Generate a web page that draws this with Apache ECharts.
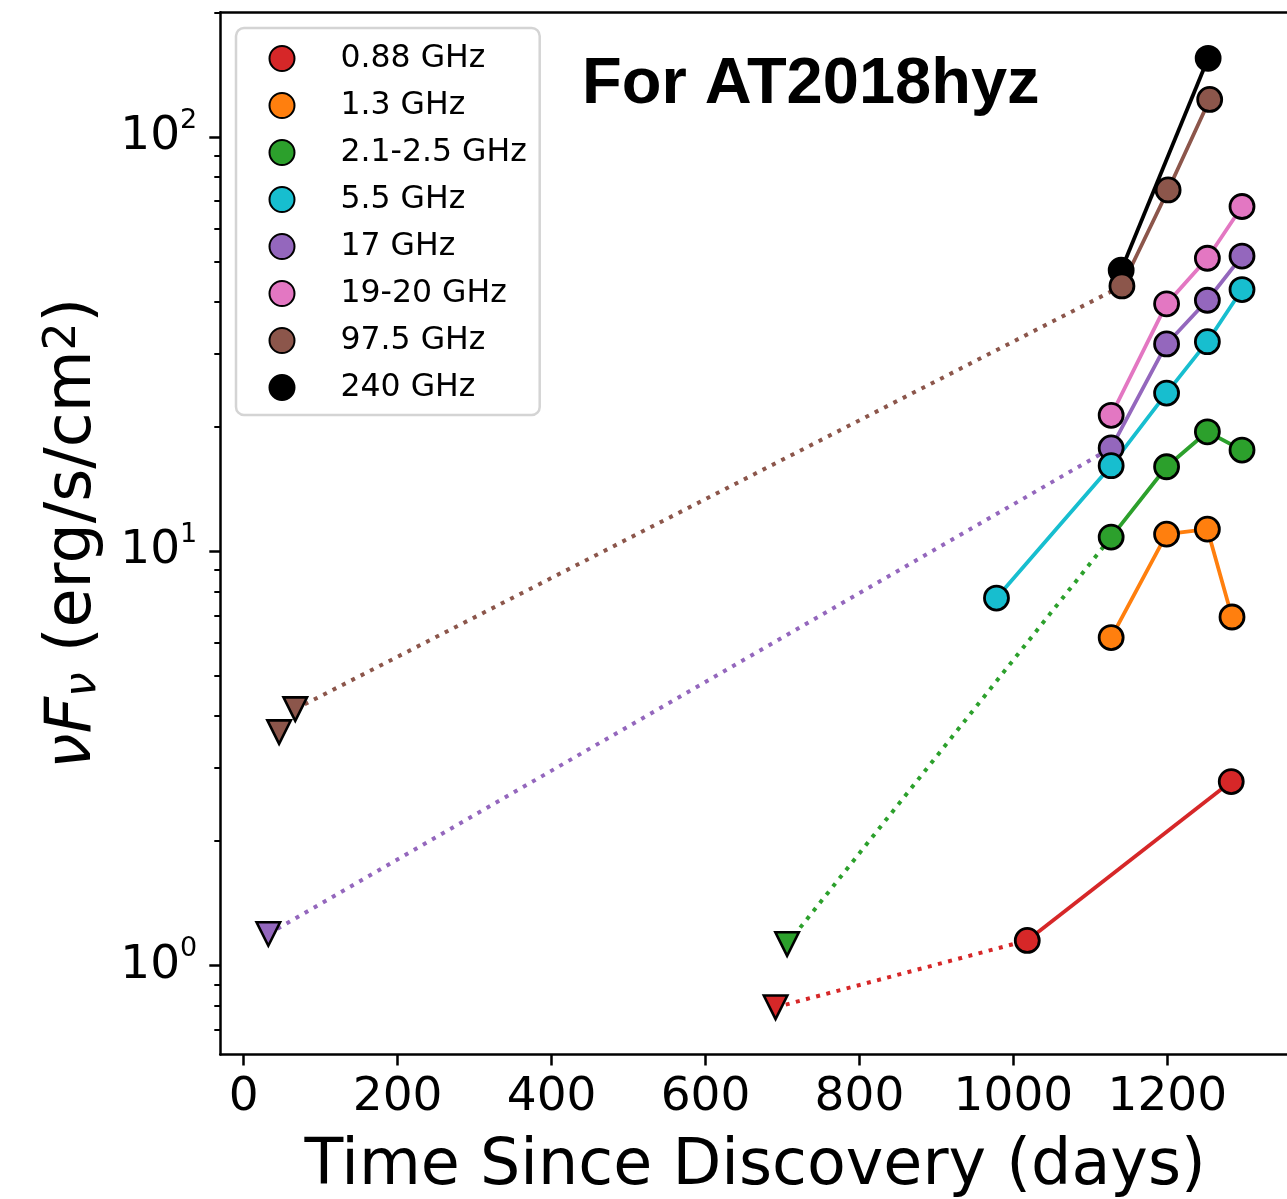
<!DOCTYPE html>
<html><head><meta charset="utf-8">
<script src="https://cdn.jsdelivr.net/npm/echarts@6/dist/echarts.min.js"></script>
<style>html,body{margin:0;padding:0;background:#fff;overflow:hidden}#c{width:1287px;height:1199px}</style>
</head><body><div id="c"></div>
<script>
// ---- data ----
const bandNames = ['0.88 GHz', '1.3 GHz', '2.1-2.5 GHz', '5.5 GHz', '17 GHz', '19-20 GHz', '97.5 GHz', '240 GHz'];
const bandColors = ['#d62728', '#ff7f0e', '#2ca02c', '#17becf', '#9467bd', '#e377c2', '#8c564b', '#000000'];

// detections (days, nuFnu)
const days088 = [1018, 1283];            const flux088 = [1.15, 2.78];
const days13  = [1127, 1199, 1252, 1284]; const flux13  = [6.19, 11.0, 11.31, 6.94];
const days21  = [1127, 1199, 1252, 1297]; const flux21  = [10.82, 16.0, 19.43, 17.55];
const days55  = [978, 1127, 1199, 1252, 1297]; const flux55 = [7.71, 16.09, 24.09, 32.06, 42.83];
const days17  = [1127, 1199, 1252, 1297]; const flux17  = [17.76, 31.66, 40.36, 51.6];
const days19  = [1127, 1199, 1252, 1297]; const flux19  = [21.29, 39.56, 50.97, 67.97];
const days975 = [1141, 1201, 1255];       const flux975 = [43.7, 74.5, 123.2];
const days240 = [1140, 1253];             const flux240 = [47.7, 154.9];

// upper limits (days, nuFnu)
const limDays088 = [691];     const limFlux088 = [0.793];
const limDays21  = [706];     const limFlux21  = [1.127];
const limDays17  = [32];      const limFlux17  = [1.192];
const limDays975 = [46, 67];  const limFlux975 = [3.66, 4.16];

// ticks
const xTickValues = [0, 200, 400, 600, 800, 1000, 1200];
const yMajorValues = [1, 10, 100];
const yMinorValues = [0.7, 0.8, 0.9, 2, 3, 4, 5, 6, 7, 8, 9, 20, 30, 40, 50, 60, 70, 80, 90, 200];

// ---- build ----
const detDays = [days088, days13, days21, days55, days17, days19, days975, days240];
const detFlux = [flux088, flux13, flux21, flux55, flux17, flux19, flux975, flux240];
const limDays = [limDays088, [], limDays21, [], limDays17, [], limDays975, []];
const limFlux = [limFlux088, [], limFlux21, [], limFlux17, [], limFlux975, []];

const FONT = 'DejaVu Sans';
const series = [];
for (let i = bandNames.length - 1; i >= 0; i--) {
  const name = bandNames[i];
  const col = bandColors[i];
  const ld = limDays[i], lf = limFlux[i];
  if (ld.length) {
    const k = ld.length - 1;
    series.push({
      name: name + ' link', type: 'line', silent: true, symbol: 'none', z: 1,
      data: [[ld[k], lf[k]], [detDays[i][0], detFlux[i][0]]],
      lineStyle: { color: col, width: 4, type: [4, 6.5], cap: 'butt' }
    });
    series.push({
      name: name + ' limit', type: 'scatter', silent: true, z: 2,
      symbol: 'triangle', symbolRotate: 180, symbolSize: 23.5,
      data: ld.map((d, j) => [d, lf[j]]),
      itemStyle: { color: col, borderColor: '#000', borderWidth: 2.6, opacity: 1 }
    });
  }
  series.push({
    name: name, type: 'line', z: 3,
    symbol: 'circle', symbolSize: 24, showAllSymbol: true,
    data: detDays[i].map((d, j) => [d, detFlux[i][j]]),
    lineStyle: { color: col, width: 3.8 },
    itemStyle: { color: col, borderColor: '#000', borderWidth: 2.8, opacity: 1 }
  });
}

const chart = echarts.init(document.getElementById('c'), null, { renderer: 'canvas' });
chart.setOption({
  animation: false,
  backgroundColor: '#fff',
  title: {
    text: 'For AT2018hyz', left: 582, top: 53, padding: 0,
    textStyle: { fontFamily: 'Liberation Sans', fontWeight: 'bold', fontSize: 65, lineHeight: 65, color: '#000' }
  },
  legend: {
    data: bandNames, orient: 'vertical', left: 236, top: 28,
    icon: 'circle', itemWidth: 25, itemHeight: 25, itemGap: 15,
    padding: [14.5, 13, 11.5, 32.5],
    backgroundColor: '#fff', borderColor: '#d4d4d4', borderWidth: 2.5, borderRadius: 8,
    textStyle: { fontFamily: FONT, fontSize: 31.5, lineHeight: 25, color: '#000', padding: [0, 0, 0, 41] },
    selectedMode: false
  },
  grid: {
    left: 220.3, top: 12.3, width: 1085.6, height: 1042.2,
    show: false, containLabel: false, outerBoundsMode: 'none'
  },
  xAxis: [{
    type: 'value', min: -30.4, max: 1380,
    name: 'Time Since Discovery (days)', nameLocation: 'middle', nameGap: 81,
    nameTextStyle: { fontFamily: FONT, fontSize: 63.5, color: '#000', lineHeight: 63.5, padding: [0, 16, 0, 0] },
    axisLine: { show: true, onZero: false, lineStyle: { color: '#000', width: 2.5 } },
    axisTick: { show: true, customValues: xTickValues, length: 11, lineStyle: { color: '#000', width: 2.5 } },
    axisLabel: { customValues: xTickValues, formatter: v => String(v), fontFamily: FONT, fontSize: 47, color: '#000', margin: 20 },
    splitLine: { show: false }
  }, {
    type: 'value', min: -30.4, max: 1380, position: 'top',
    axisLine: { show: true, onZero: false, lineStyle: { color: '#000', width: 2.5 } },
    axisTick: { show: false }, axisLabel: { show: false }, splitLine: { show: false }
  }],
  yAxis: [{
    type: 'log', logBase: 10, min: 0.61, max: 200,
    name: '{i|νF}{sub|ν}{t| (erg/s/cm}{sup|2}{t|)}', nameLocation: 'middle', nameGap: 115,
    nameTextStyle: {
      color: '#000',
      rich: {
        i: { fontFamily: FONT, fontStyle: 'italic', fontSize: 63.5, lineHeight: 63.5, color: '#000', verticalAlign: 'middle' },
        t: { fontFamily: FONT, fontSize: 63.5, lineHeight: 63.5, color: '#000', verticalAlign: 'middle' },
        sub: { fontFamily: FONT, fontStyle: 'italic', fontSize: 44, lineHeight: 44, color: '#000', verticalAlign: 'bottom' },
        sup: { fontFamily: FONT, fontSize: 44, lineHeight: 44, color: '#000', verticalAlign: 'top' }
      }
    },
    axisLine: { show: true, onZero: false, lineStyle: { color: '#000', width: 2.5 } },
    axisTick: { show: true, customValues: yMajorValues, length: 11, lineStyle: { color: '#000', width: 2.5 } },
    axisLabel: {
      customValues: yMajorValues, margin: 23, color: '#000',
      formatter: v => '{b|10}{s|' + Math.round(Math.log10(v)) + '}',
      rich: {
        b: { fontFamily: FONT, fontSize: 47, lineHeight: 60, color: '#000', verticalAlign: 'middle' },
        s: { fontFamily: FONT, fontSize: 27, lineHeight: 36, color: '#000', verticalAlign: 'top' }
      }
    },
    splitLine: { show: false }
  }, {
    type: 'log', logBase: 10, min: 0.61, max: 200, position: 'left',
    axisLine: { show: false, onZero: false },
    axisTick: { show: true, customValues: yMinorValues, length: 6, lineStyle: { color: '#000', width: 2 } },
    axisLabel: { show: false },
    splitLine: { show: false }
  }],
  series: series
});
</script>
</body></html>
